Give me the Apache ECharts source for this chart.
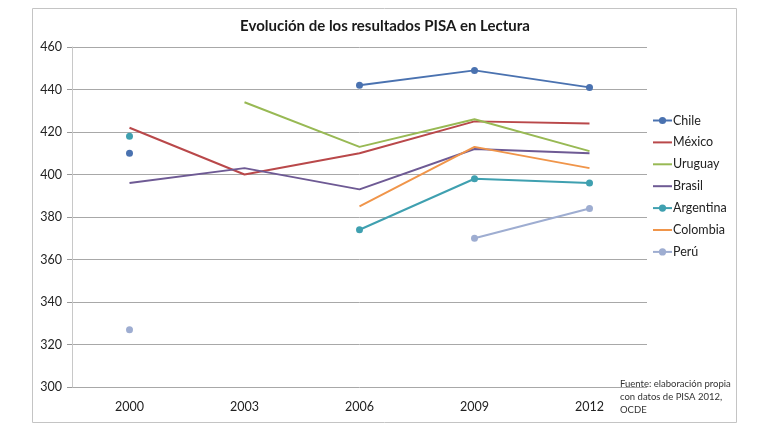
<!DOCTYPE html>
<html><head><meta charset="utf-8">
<script src="https://cdn.jsdelivr.net/npm/echarts@6/dist/echarts.min.js"></script>
<style>html,body{margin:0;padding:0;background:#fff}#c{width:770px;height:433px}</style>
</head><body><div id="c"></div>
<script>
const categories = ['2000', '2003', '2006', '2009', '2012'];
const chile     = [410, null, 442, 449, 441];
const mexico    = [422, 400, 410, 425, 424];
const uruguay   = [null, 434, 413, 426, 411];
const brasil    = [396, 403, 393, 412, 410];
const argentina = [418, null, 374, 398, 396];
const colombia  = [null, null, 385, 413, 403];
const peru      = [327, null, null, 370, 384];
const yTicks = { min: 300, max: 460, interval: 20 };

const FONT = 'Lato, "Open Sans", sans-serif';
const markerSeries = { 'Chile': true, 'Argentina': true, 'Perú': true };
function s(name, data, color) {
  const marker = !!markerSeries[name];
  return {
    name, type: 'line', data,
    symbol: marker ? 'circle' : 'none',
    symbolSize: 7,
    showSymbol: marker,
    connectNulls: false,
    lineStyle: { color, width: 2 },
    itemStyle: { color },
    emphasis: { disabled: true },
    animation: false
  };
}
const names = ['Chile', 'México', 'Uruguay', 'Brasil', 'Argentina', 'Colombia', 'Perú'];
const chart = echarts.init(document.getElementById('c'));
chart.setOption({
  animation: false,
  textStyle: { fontFamily: FONT },
  title: {
    text: 'Evolución de los resultados PISA en Lectura',
    left: 'center', top: 14,
    textStyle: { fontFamily: FONT, fontSize: 15, fontWeight: 'bold', color: '#1a1a1a' }
  },
  graphic: [
    { type: 'rect', shape: { x: 32.5, y: 8.5, width: 704, height: 414 },
      style: { fill: 'none', stroke: '#c4c4c4', lineWidth: 1 }, silent: true },
    { type: 'text', left: 620, top: 377,
      style: { text: 'Fuente: elaboración propia\ncon datos de PISA 2012,\nOCDE',
        fontFamily: FONT, fontSize: 9.5, lineHeight: 13, fill: '#333' } }
  ],
  legend: {
    orient: 'vertical', left: 652, top: 114, padding: 0,
    itemWidth: 19, itemHeight: 9, itemGap: 8.9,
    textStyle: { fontFamily: FONT, fontSize: 12.5, color: '#222', padding: [0, 0, 0, -4] },
    data: names.map(n => markerSeries[n] ? { name: n } : { name: n, itemStyle: { opacity: 0 } })
  },
  grid: { left: 72, right: 123, top: 47, bottom: 46 },
  xAxis: {
    type: 'category', data: categories, boundaryGap: true,
    axisLine: { show: false }, axisTick: { show: false },
    axisLabel: { color: '#222', fontSize: 12.5, margin: 13, fontFamily: FONT }
  },
  yAxis: {
    type: 'value', min: yTicks.min, max: yTicks.max, interval: yTicks.interval,
    axisLine: { show: true, lineStyle: { color: '#c8c8c8', width: 1 } },
    axisTick: { show: true, length: 5, lineStyle: { color: '#999' } },
    splitLine: { lineStyle: { color: '#a8a8a8', width: 1 } },
    axisLabel: { color: '#222', fontSize: 12.5, margin: 10, fontFamily: FONT }
  },
  series: [
    s('Chile', chile, '#4a72b0'),
    s('México', mexico, '#b9484a'),
    s('Uruguay', uruguay, '#98b954'),
    s('Brasil', brasil, '#6e5a94'),
    s('Argentina', argentina, '#3fa0b0'),
    s('Colombia', colombia, '#f0954a'),
    s('Perú', peru, '#9eadd1')
  ]
});
</script></body></html>
